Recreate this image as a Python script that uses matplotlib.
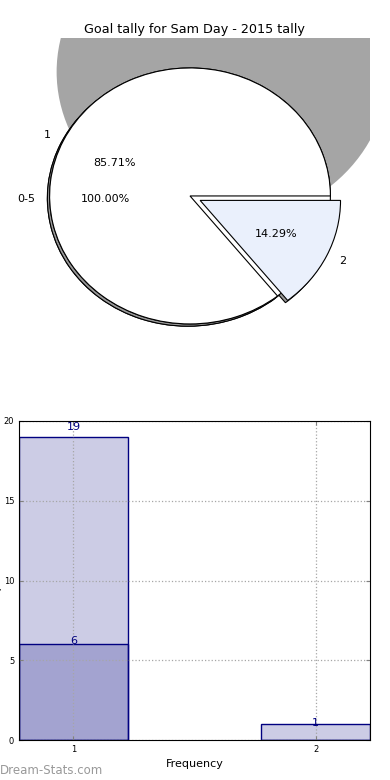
import numpy as np
import matplotlib
matplotlib.use("Agg")
import matplotlib.pyplot as plt
import matplotlib.patches as mpatches
import matplotlib.transforms as mtransforms

# pie data
outer_labels = ["0-5"]
outer_sizes = [7]
inner_labels = ["1", "2"]
inner_sizes = [6, 1]
inner_colors = ["white", "#eaf0fc"]
inner_explode = [0, 0.08]

# bar data
bar_x = [1, 2]
bar_total = [19, 1]
bar_scored = [6, 0]

title = "Goal tally for Sam Day - 2015 tally"

fig = plt.figure(figsize=(3.9, 7.8), dpi=100)

# ---- pie ----
ax1 = fig.add_axes([19/390, 1 - 358/780, 351/390, 320/780])
wp = {"edgecolor": "k", "linewidth": 0.8}

# big grey backdrop
back = mpatches.Circle((0.23, 0.97), 1.18, facecolor="#a5a5a5",
                       edgecolor="none", zorder=0)
ax1.add_patch(back)

w0, t0, p0 = ax1.pie(outer_sizes, labels=outer_labels, colors=["white"],
                     autopct="%1.2f%%", wedgeprops=wp,
                     textprops={"fontsize": 8})
w1, t1, p1 = ax1.pie(inner_sizes, labels=inner_labels, colors=inner_colors,
                     explode=inner_explode, autopct="%1.2f%%", wedgeprops=wp,
                     textprops={"fontsize": 8})

# shadows: copies of the wedges shifted down-left a little
shift = mtransforms.ScaledTranslation(-1.6/72, -1.6/72, fig.dpi_scale_trans)
for w in list(w0) + list(w1):
    sh = mpatches.Wedge(w.center, w.r, w.theta1, w.theta2,
                        facecolor="0.6", edgecolor="k", linewidth=0.8,
                        transform=ax1.transData + shift, zorder=0.5)
    ax1.add_patch(sh)
for w in list(w0):
    w.set_zorder(1)
for w in list(w1):
    w.set_zorder(2)
for t in list(t0) + list(p0):
    px, py = t.get_position()
    t.set_position((px, py - 0.022))
for t in list(t0) + list(p0) + list(t1) + list(p1):
    t.set_zorder(5)

ax1.set_aspect("auto")
ax1.set_xlim(-1.218, 1.282)
ax1.set_ylim(-1.266, 1.234)
ax1.set_axis_off()
fig.text(194/390, 1 - 30/780, title, ha="center", va="center", fontsize=9.2)

# ---- bars ----
ax2 = fig.add_axes([19/390, 40/780, 351/390, 319/780])
ax2.bar(bar_x, bar_total, width=0.45, color="navy", alpha=0.2,
        edgecolor="none")
ax2.bar(bar_x, bar_total, width=0.45, facecolor="none", edgecolor="navy",
        linewidth=1)
ax2.bar(bar_x, bar_scored, width=0.45, color="navy", alpha=0.2,
        edgecolor="none")
ax2.bar(bar_x, bar_scored, width=0.45, facecolor="none", edgecolor="navy",
        linewidth=1)
for xv, hv in zip(bar_x, bar_total):
    ax2.text(xv, hv * 1.03 + 0.05, str(hv), ha="center", va="center",
             color="navy", fontsize=8)
for xv, hv in zip(bar_x, bar_scored):
    if hv > 0:
        ax2.text(xv, hv * 1.03 + 0.05, str(hv), ha="center", va="center",
                 color="navy", fontsize=8)

ax2.set_xlim(0.775, 2.225)
ax2.set_ylim(0, 20)
ax2.set_xticks(bar_x)
ax2.set_yticks([0, 5, 10, 15, 20])
ax2.tick_params(direction="in", top=True, right=True, length=3,
                labelsize=6, color="0.5")
ax2.set_axisbelow(False)
ax2.grid(True, linestyle=":", color="0.65", linewidth=0.9)
for sp in ax2.spines.values():
    sp.set_zorder(4)
ax2.set_xlabel("Frequency", fontsize=8, labelpad=4)
ax2.set_ylabel("Goals per Game", fontsize=8)
ax2.yaxis.set_label_coords(-0.048, 0.5)

fig.text(0.0, 1 - 771/780, "Dream-Stats.com", ha="left", va="center",
         fontsize=8.5, color="#999999")

fig.savefig("out.png", dpi=100)
